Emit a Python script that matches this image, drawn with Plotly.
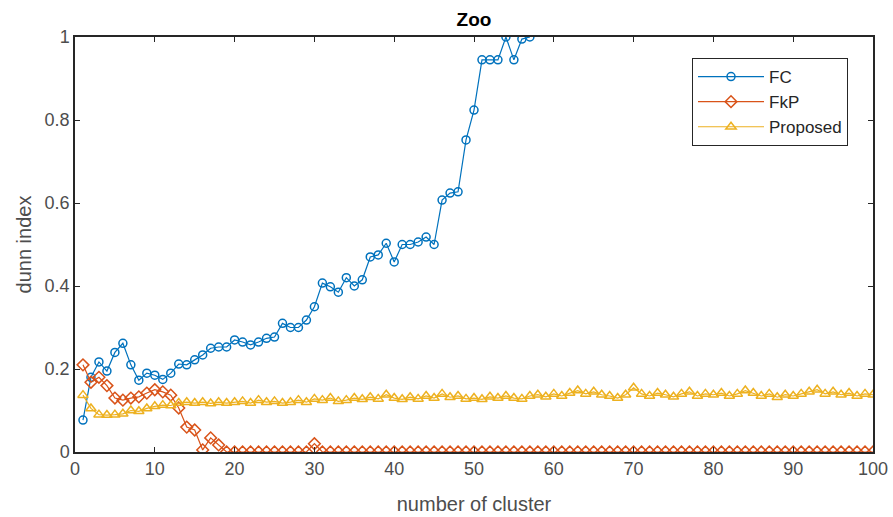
import plotly.graph_objects as go

x_fc = list(range(1, 58))
fc = [0.077, 0.18, 0.217, 0.195, 0.24, 0.262, 0.21, 0.173, 0.19, 0.185,
      0.175, 0.19, 0.212, 0.21, 0.222, 0.234, 0.25, 0.253, 0.253, 0.27,
      0.265, 0.258, 0.265, 0.274, 0.277, 0.31, 0.3, 0.3, 0.318, 0.35,
      0.407, 0.398, 0.385, 0.42, 0.4, 0.415, 0.47, 0.475, 0.503, 0.458,
      0.5, 0.5, 0.506, 0.518, 0.5, 0.607, 0.624, 0.627, 0.752, 0.824,
      0.945, 0.945, 0.945, 1.0, 0.945, 0.995, 1.0]

x_all = list(range(1, 101))
fkp = [0.21, 0.168, 0.18, 0.16, 0.13, 0.125, 0.13, 0.133, 0.142, 0.15,
       0.145, 0.137, 0.106, 0.06, 0.053, 0.005, 0.034, 0.017, 0.0, 0.0,
       0.0, 0.0, 0.0, 0.0, 0.0, 0.0, 0.0, 0.0, 0.0, 0.02] + [0.0] * 70

proposed = [0.137, 0.105, 0.09, 0.089, 0.09, 0.092, 0.1, 0.098, 0.105, 0.11,
            0.113, 0.112, 0.118, 0.12, 0.118, 0.12, 0.117, 0.12, 0.118, 0.12,
            0.122, 0.118, 0.125, 0.12, 0.122, 0.118, 0.12, 0.125, 0.12, 0.128,
            0.125, 0.13, 0.122, 0.125, 0.13, 0.127, 0.132, 0.128, 0.138, 0.13,
            0.127, 0.132, 0.128, 0.135, 0.13, 0.14, 0.132, 0.135, 0.128, 0.13,
            0.127, 0.133, 0.13, 0.135, 0.13, 0.128, 0.135, 0.138, 0.133, 0.14,
            0.135, 0.142, 0.148, 0.14, 0.145, 0.138, 0.135, 0.13, 0.138, 0.155,
            0.14, 0.135, 0.142, 0.138, 0.133, 0.14, 0.145, 0.135, 0.14, 0.138,
            0.142, 0.135, 0.14, 0.148, 0.142, 0.135, 0.14, 0.132, 0.138, 0.135,
            0.14, 0.145, 0.15, 0.14, 0.145, 0.138, 0.142, 0.135, 0.14, 0.138]

x_ticks = [0, 10, 20, 30, 40, 50, 60, 70, 80, 90, 100]
y_ticks = [0, 0.2, 0.4, 0.6, 0.8, 1]
y_labels = ["0", "0.2", "0.4", "0.6", "0.8", "1"]

fig = go.Figure()
fig.add_trace(go.Scatter(x=x_fc, y=fc, name="FC", mode="lines+markers",
                         line=dict(color="#0072BD", width=1.2),
                         marker=dict(symbol="circle-open", size=8, color="#0072BD", line=dict(width=1.5))))
fig.add_trace(go.Scatter(x=x_all, y=fkp, name="FkP", mode="lines+markers",
                         line=dict(color="#D95319", width=1.2),
                         marker=dict(symbol="diamond-open", size=9, color="#D95319", line=dict(width=1.5))))
fig.add_trace(go.Scatter(x=x_all, y=proposed, name="Proposed", mode="lines+markers",
                         line=dict(color="#EDB120", width=1.2),
                         marker=dict(symbol="triangle-up-open", size=9, color="#EDB120", line=dict(width=1.5))))

axis_common = dict(showgrid=False, zeroline=False, showline=True, linecolor="#262626",
                   linewidth=1.5, mirror="ticks", ticks="inside", ticklen=5,
                   tickcolor="#262626", tickfont=dict(size=18, color="#4d4d4d"),
                   automargin=False)

fig.update_layout(
    width=893, height=517,
    margin=dict(l=75, r=20, t=37, b=65),
    paper_bgcolor="white", plot_bgcolor="white",
    font=dict(family="Liberation Sans, Arial, sans-serif", color="#262626"),
    title=dict(text="<b>Zoo</b>", x=474 / 893, xanchor="center", y=1 - 19 / 517, yanchor="middle",
               font=dict(size=19, color="#000000"), automargin=False),
    xaxis=dict(range=[0, 100], tickvals=x_ticks,
               title=dict(text="number of cluster", font=dict(size=20, color="#4d4d4d"), standoff=19),
               **axis_common),
    yaxis=dict(range=[0, 1], tickvals=y_ticks, ticktext=y_labels,
               title=dict(text="dunn index", font=dict(size=20, color="#4d4d4d"), standoff=8),
               **axis_common),
    legend=dict(x=(692 - 75) / 798, y=(452 - 58) / 415, xanchor="left", yanchor="top",
                bordercolor="#262626", borderwidth=1, bgcolor="white",
                font=dict(size=17, color="#262626"), tracegroupgap=0, itemwidth=66),
    showlegend=True,
)

fig.write_html("out.html", config={"displayModeBar": False},
               post_script="document.body.style.margin='0';document.body.style.padding='0';")
